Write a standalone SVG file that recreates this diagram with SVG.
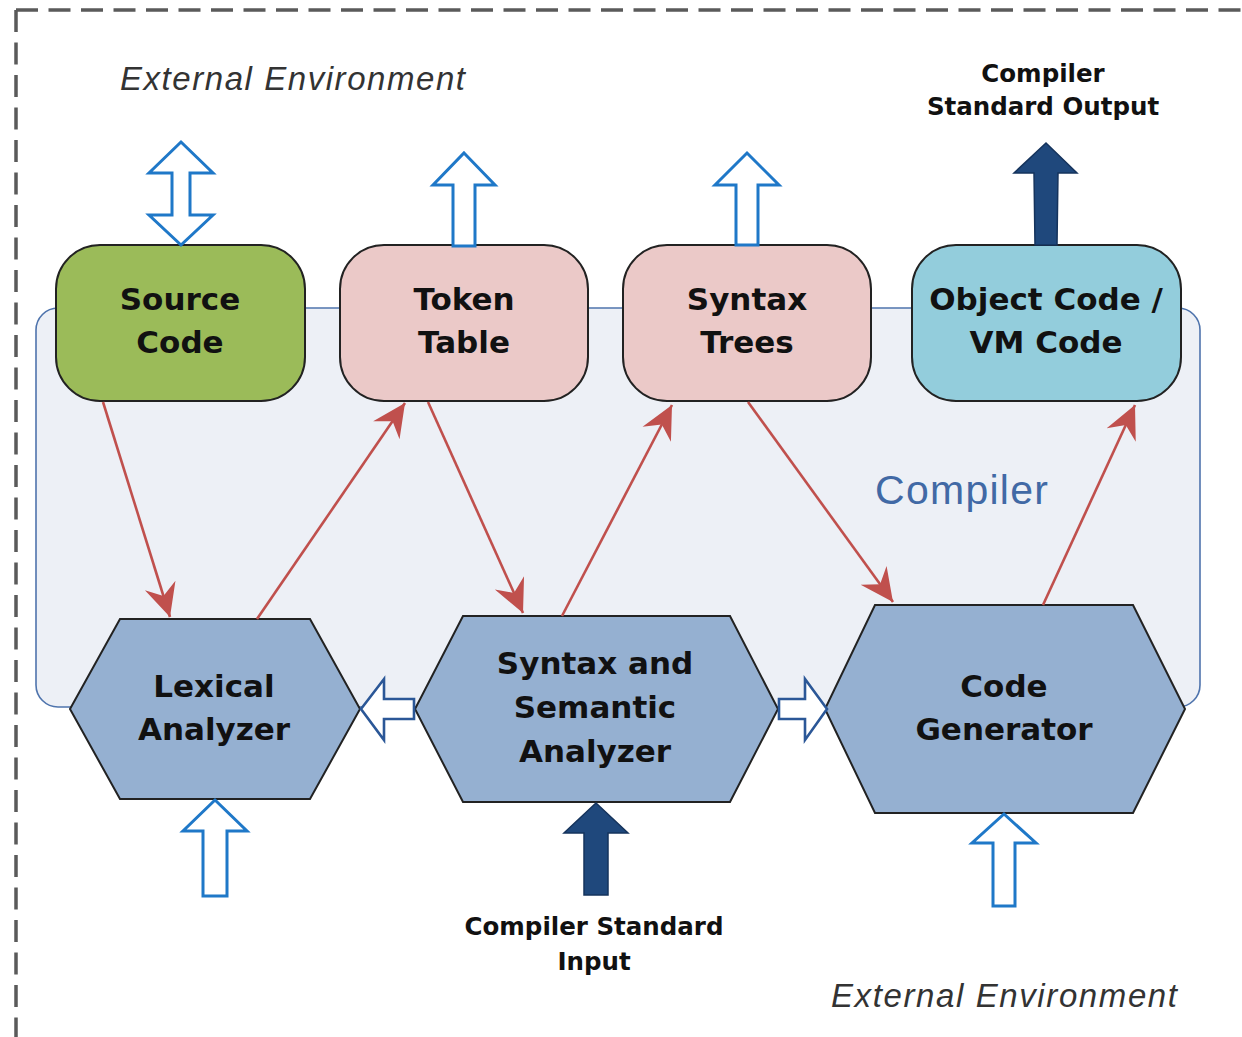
<svg xmlns="http://www.w3.org/2000/svg" width="1242" height="1037" viewBox="0 0 1242 1037">
  <defs>
    <style>
      .frame { fill: none; stroke: #5a5a5a; stroke-width: 3.5; stroke-dasharray: 22 10.5; }
      .system { fill: #edf0f6; stroke: #4f74ad; stroke-width: 1.6; }
      .box { stroke: #222; stroke-width: 2; }
      .hex { fill: #95b0d1; stroke: #222; stroke-width: 2; }
      .label { font-family: "DejaVu Sans", "Liberation Sans", sans-serif; font-weight: bold; font-size: 31px; fill: #111; text-anchor: middle; }
      .io { font-family: "DejaVu Sans", "Liberation Sans", sans-serif; font-weight: bold; font-size: 24.5px; fill: #111; text-anchor: middle; }
      .env { font-family: "Liberation Sans", Arial, sans-serif; font-style: italic; font-size: 33px; fill: #333; }
      .sys-title { font-family: "Liberation Sans", Arial, sans-serif; font-size: 41px; fill: #4169a5; }
      .flow { fill: none; stroke: #c0504d; stroke-width: 2.6; marker-end: url(#stealth); }
      .ext { fill: #fff; stroke: #1f78c8; stroke-width: 3; stroke-linejoin: miter; }
      .pass { fill: #fff; stroke: #2b5797; stroke-width: 2.6; stroke-linejoin: miter; }
      .std { fill: #1f487c; stroke: #15335c; stroke-width: 1.5; }
    </style>
    <marker id="stealth" markerUnits="userSpaceOnUse" viewBox="-36 -18 38 36" refX="0" refY="0" markerWidth="38" markerHeight="36" orient="auto">
      <path d="M0,0 L-33,-16 L-22,0 L-33,16 Z" fill="#c0504d"/>
    </marker>
  </defs>

  <!-- environment boundary -->
  <path class="frame" d="M16,10 V1045"/>
  <path class="frame" d="M16,10 H1250"/>

  <text class="env" x="120" y="90" textLength="345" lengthAdjust="spacing">External Environment</text>
  <text class="env" x="831" y="1007" textLength="346" lengthAdjust="spacing">External Environment</text>

  <!-- compiler boundary -->
  <g id="compiler">
    <rect class="system" x="36" y="308" width="1164" height="399" rx="22"/>
    <text class="sys-title" x="875" y="504" textLength="173" lengthAdjust="spacing">Compiler</text>
  </g>

  <!-- data stores -->
  <g id="source-code">
    <rect class="box" x="56" y="245" width="249" height="156" rx="44" fill="#9bbb59"/>
    <text class="label" x="180" y="310">Source</text>
    <text class="label" x="180" y="353">Code</text>
  </g>
  <g id="token-table">
    <rect class="box" x="340" y="245" width="248" height="156" rx="44" fill="#ebc9c8"/>
    <text class="label" x="464" y="310">Token</text>
    <text class="label" x="464" y="353">Table</text>
  </g>
  <g id="syntax-trees">
    <rect class="box" x="623" y="245" width="248" height="156" rx="44" fill="#ebc9c8"/>
    <text class="label" x="747" y="310">Syntax</text>
    <text class="label" x="747" y="353">Trees</text>
  </g>
  <g id="object-code">
    <rect class="box" x="912" y="245" width="269" height="156" rx="44" fill="#93cddc"/>
    <text class="label" x="1046" y="310">Object Code /</text>
    <text class="label" x="1046" y="353">VM Code</text>
  </g>

  <!-- processing stages -->
  <g id="lexical-analyzer">
    <polygon class="hex" points="120,619 310,619 360,709 310,799 120,799 70,709"/>
    <text class="label" x="214" y="697">Lexical</text>
    <text class="label" x="214" y="740">Analyzer</text>
  </g>
  <g id="syntax-analyzer">
    <polygon class="hex" points="463,616 730,616 778,709 730,802 463,802 415,709"/>
    <text class="label" x="595" y="674">Syntax and</text>
    <text class="label" x="595" y="718">Semantic</text>
    <text class="label" x="595" y="762">Analyzer</text>
  </g>
  <g id="code-generator">
    <polygon class="hex" points="875,605 1133,605 1185,709 1133,813 875,813 825,709"/>
    <text class="label" x="1004" y="697">Code</text>
    <text class="label" x="1004" y="740">Generator</text>
  </g>

  <!-- standard I/O labels -->
  <g id="std-output-label">
    <text class="io" x="1043" y="82">Compiler</text>
    <text class="io" x="1043" y="115">Standard Output</text>
  </g>
  <g id="std-input-label">
    <text class="io" x="594" y="935">Compiler Standard</text>
    <text class="io" x="594" y="970">Input</text>
  </g>

  <g id="connectors">
    <!-- data flow between stages and stores -->
    <line class="flow" x1="103" y1="402" x2="170" y2="617"/>
    <line class="flow" x1="257" y1="619" x2="405" y2="403"/>
    <line class="flow" x1="428" y1="402" x2="523" y2="613"/>
    <line class="flow" x1="562" y1="616" x2="672" y2="405"/>
    <line class="flow" x1="748" y1="402" x2="893" y2="602"/>
    <line class="flow" x1="1043" y1="605" x2="1135" y2="405"/>

    <!-- exchange with the external environment -->
    <path class="ext" d="M181,142 L213,173 L190,173 L190,215 L213,215 L181,245 L149,215 L172,215 L172,173 L149,173 Z"/>
    <path class="ext" d="M464,153 L495,185 L475,185 L475,246 L453,246 L453,185 L433,185 Z"/>
    <path class="ext" d="M747,153 L779,185 L758,185 L758,245 L736,245 L736,185 L715,185 Z"/>
    <path class="ext" d="M215,800 L247,831 L227,831 L227,896 L203,896 L203,831 L183,831 Z"/>
    <path class="ext" d="M1004,814 L1036,843 L1015,843 L1015,906 L993,906 L993,843 L972,843 Z"/>

    <!-- standard output / input -->
    <path class="std" d="M1046,143 L1077,173 L1058,173 L1057,245 L1035,245 L1034,173 L1014,173 Z"/>
    <path class="std" d="M596,803 L628,833 L608,833 L608,895 L584,895 L584,833 L564,833 Z"/>

    <!-- stage-to-stage hand-off -->
    <path class="pass" d="M361,709 L384,679 L384,699 L414,699 L414,719 L384,719 L384,740 Z"/>
    <path class="pass" d="M827,709 L805,679 L805,699 L779,699 L779,719 L805,719 L805,740 Z"/>
  </g>
</svg>
